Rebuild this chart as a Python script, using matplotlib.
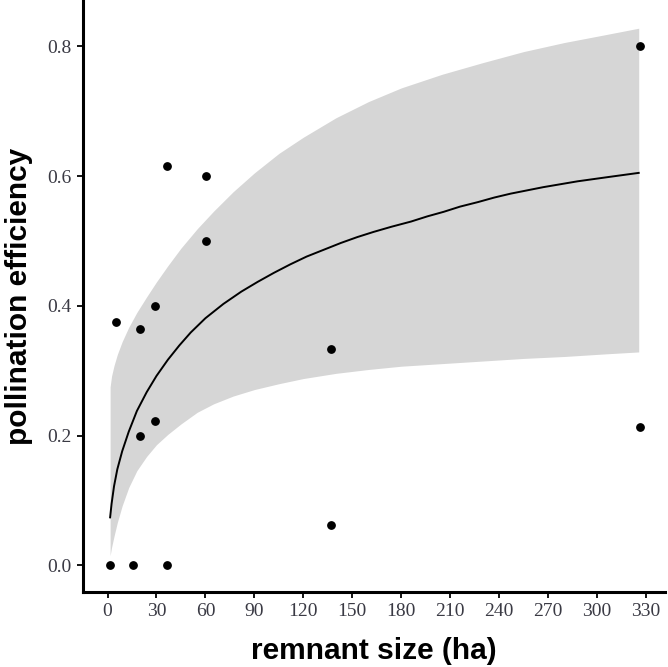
import matplotlib
matplotlib.use("Agg")
import matplotlib.pyplot as plt

# observed remnants
remnant_size = [1.6, 5.3, 15.5, 20, 20, 29, 29, 36.7, 36.7, 60.4, 60.4, 136.7, 136.7, 326, 326]
efficiency = [0.0, 0.375, 0.0, 0.364, 0.200, 0.400, 0.222, 0.615, 0.0, 0.600, 0.500, 0.333, 0.062, 0.800, 0.214]

# fitted curve
fit_x = [1.6, 2.5, 4, 6, 9, 13, 18, 24, 30, 37, 44, 51, 60, 71, 82, 92, 102, 112, 122,
         133, 143, 153, 163, 174, 186, 196, 206, 216, 227, 237, 247, 257, 267, 288, 308, 325.5]
fit_y = [0.074, 0.095, 0.122, 0.148, 0.176, 0.206, 0.238, 0.267, 0.292, 0.317, 0.339,
         0.359, 0.381, 0.403, 0.422, 0.437, 0.451, 0.464, 0.476, 0.487, 0.497, 0.506,
         0.514, 0.522, 0.530, 0.538, 0.545, 0.553, 0.560, 0.567, 0.573, 0.578, 0.583,
         0.592, 0.599, 0.605]

# confidence band
band_x = [1.6, 2.5, 4, 6, 9, 13, 18, 24, 30, 37, 45, 55, 65, 77, 90, 105, 120, 140, 160,
          180, 205, 230, 255, 280, 305, 325.5]
band_lo = [0.015, 0.028, 0.045, 0.066, 0.092, 0.120, 0.146, 0.168, 0.186, 0.202, 0.218,
           0.236, 0.249, 0.261, 0.271, 0.280, 0.288, 0.296, 0.302, 0.307, 0.311, 0.315,
           0.319, 0.322, 0.326, 0.329]
band_hi = [0.275, 0.292, 0.308, 0.325, 0.345, 0.367, 0.390, 0.414, 0.437, 0.462, 0.489,
           0.519, 0.546, 0.576, 0.605, 0.635, 0.660, 0.690, 0.715, 0.736, 0.757, 0.775,
           0.792, 0.806, 0.818, 0.828]

x_ticks = list(range(0, 331, 30))
y_ticks = [0.0, 0.2, 0.4, 0.6, 0.8]

fig = plt.figure(figsize=(6.68, 6.67), dpi=100)
ax = fig.add_axes([0.1238, 0.112, 0.8717, 0.888])

ax.fill_between(band_x, band_lo, band_hi, color="#D6D6D6", linewidth=0)
ax.plot(fit_x, fit_y, color="black", linewidth=1.4)
ax.scatter(remnant_size, efficiency, s=28, color="black", zorder=3)

ax.set_xlim(-15.2, 341.6)
ax.set_ylim(-0.0415, 0.8715)
ax.set_xticks(x_ticks)
ax.set_yticks(y_ticks)
ax.set_xticklabels([str(t) for t in x_ticks])
ax.set_yticklabels([f"{t:.1f}" for t in y_ticks])

for side in ["top", "right"]:
    ax.spines[side].set_visible(False)
for side in ["left", "bottom"]:
    ax.spines[side].set_linewidth(2.2)

ax.tick_params(axis="both", length=4, width=1.3, color="black", pad=4,
               labelsize=14, labelcolor="#3A3A44")
for lab in ax.get_xticklabels() + ax.get_yticklabels():
    lab.set_family("Liberation Serif")

ax.set_xlabel("remnant size (ha)", fontsize=21.5, fontweight="bold",
              family="Liberation Sans", labelpad=12)
ax.set_ylabel("pollination efficiency", fontsize=21.5, fontweight="bold",
              family="Liberation Sans", labelpad=10)

fig.savefig("out.png", dpi=100)
